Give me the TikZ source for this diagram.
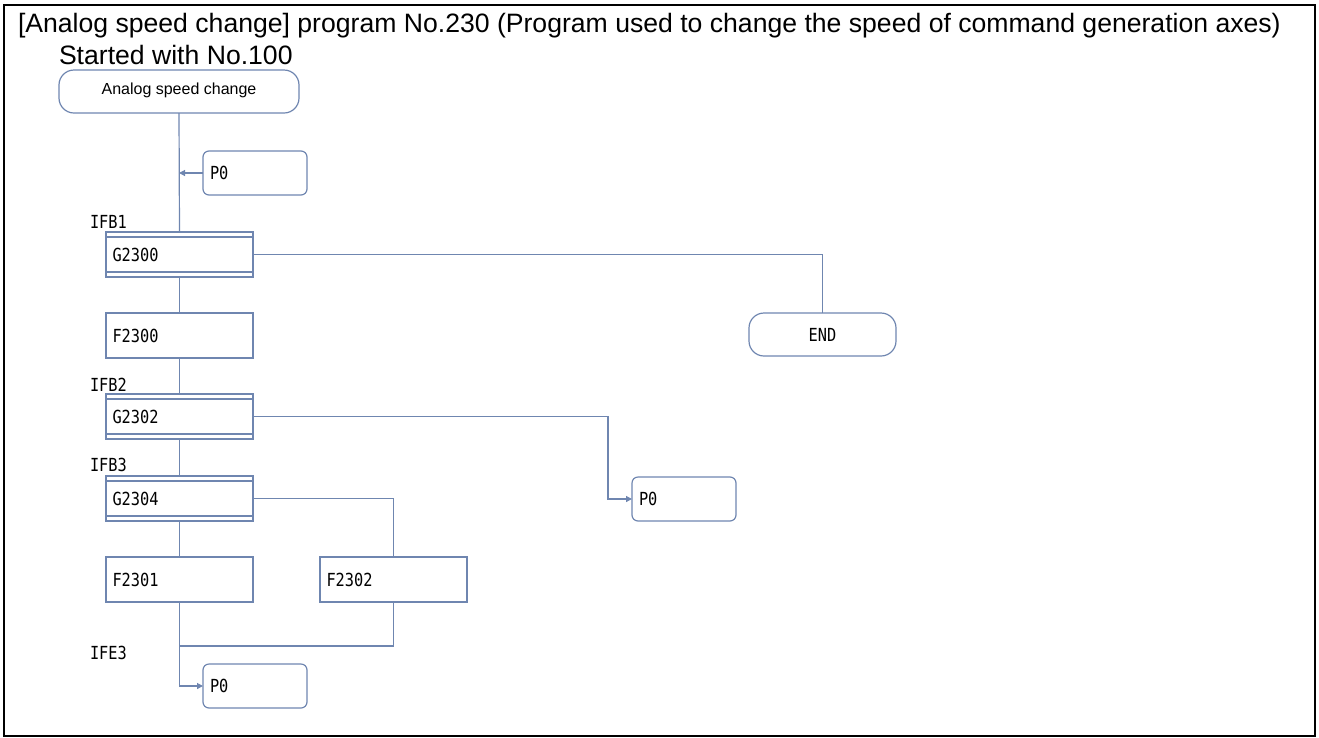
\documentclass[tikz,border=0pt]{standalone}
\usepackage{fontspec}
\setmainfont{Liberation Sans}
\newfontfamily\gfont[FakeStretch=0.85]{DejaVu Sans Mono}
\usetikzlibrary{arrows.meta}
\definecolor{ln}{RGB}{111,134,176}
\begin{document}
\begin{tikzpicture}[x=1pt,y=-1pt,
  every node/.style={inner sep=0pt, outer sep=0pt},
  conn/.style={draw=ln, line width=1.2pt},
  arr/.style={conn, -{Triangle[length=6pt,width=6pt]}},
  gtext/.style={font=\gfont\fontsize{18}{20}\selectfont},
  procbox/.style={draw=ln, line width=1.2pt, rectangle, anchor=north west,
    minimum width=147pt, minimum height=45pt, text width=134pt, inner xsep=6.5pt,
    align=left, gtext},
  pbox/.style={draw=ln, line width=1.2pt, rectangle, rounded corners=6pt, anchor=north west,
    minimum width=104pt, minimum height=44pt, text width=90pt, inner xsep=7pt,
    align=left, gtext},
  termbox/.style={draw=ln, line width=1.2pt, rectangle, rounded corners=15pt, anchor=north west,
    minimum height=43pt, align=center},
  lbl/.style={gtext, anchor=west},
  ttl/.style={anchor=base west, font=\fontsize{26.6}{30}\selectfont}
]
\useasboundingbox (0,0) rectangle (1319,737);
\draw[black, line width=2pt] (4,5) rectangle (1315,736);

\node[ttl] (title) at (18,32)
  {[Analog speed change] program No.230 (Program used to change the speed of command generation axes)};
\node[ttl] (sub) at (59,64) {Started with No.100};

\node[termbox, minimum width=240pt, font=\fontsize{16}{18}\selectfont, text depth=6pt] (start) at (59,70) {Analog speed change};
\node[pbox] (p0a) at (203,151) {P0};
\node[procbox] (g1) at (106,232) {G2300};
\node[procbox] (f2300) at (106,313) {F2300};
\node[procbox] (g2) at (106,394) {G2302};
\node[procbox] (g3) at (106,476) {G2304};
\node[procbox] (f2301) at (106,557) {F2301};
\node[procbox] (f2302) at (320,557) {F2302};
\node[pbox] (p0b) at (632,477) {P0};
\node[pbox] (p0c) at (203,664) {P0};
\node[termbox, minimum width=147pt, gtext] (end) at (749,313) {END};

\foreach \n in {g1,g2,g3}{
  \draw[ln, line width=1.2pt] ([yshift=-5pt]\n.north west) -- ([yshift=-5pt]\n.north east);
  \draw[ln, line width=1.2pt] ([yshift=5pt]\n.south west) -- ([yshift=5pt]\n.south east);
}

\node[lbl] (l1) at (90,222) {IFB1};
\node[lbl] (l2) at (90,385) {IFB2};
\node[lbl] (l3) at (90,465) {IFB3};
\node[lbl] (l4) at (90,653) {IFE3};

\draw[conn] (start.south) -- (g1.north);
\draw[arr] (p0a.west) -- (p0a.west -| start.south);
\draw[conn] (g1.south) -- (f2300.north);
\draw[conn] (f2300.south) -- (g2.north);
\draw[conn] (g2.south) -- (g3.north);
\draw[conn] (g3.south) -- (f2301.north);
\draw[conn] (g1.east) -| (end.north);
\draw[arr] (g2.east) -| ([xshift=-24pt]p0b.west) -- (p0b.west);
\draw[conn] (g3.east) -| (f2302.north);
\coordinate (join) at (179,646);
\draw[conn] (f2302.south) |- (join);
\draw[arr] (f2301.south) |- (p0c.west);
\end{tikzpicture}
\end{document}
